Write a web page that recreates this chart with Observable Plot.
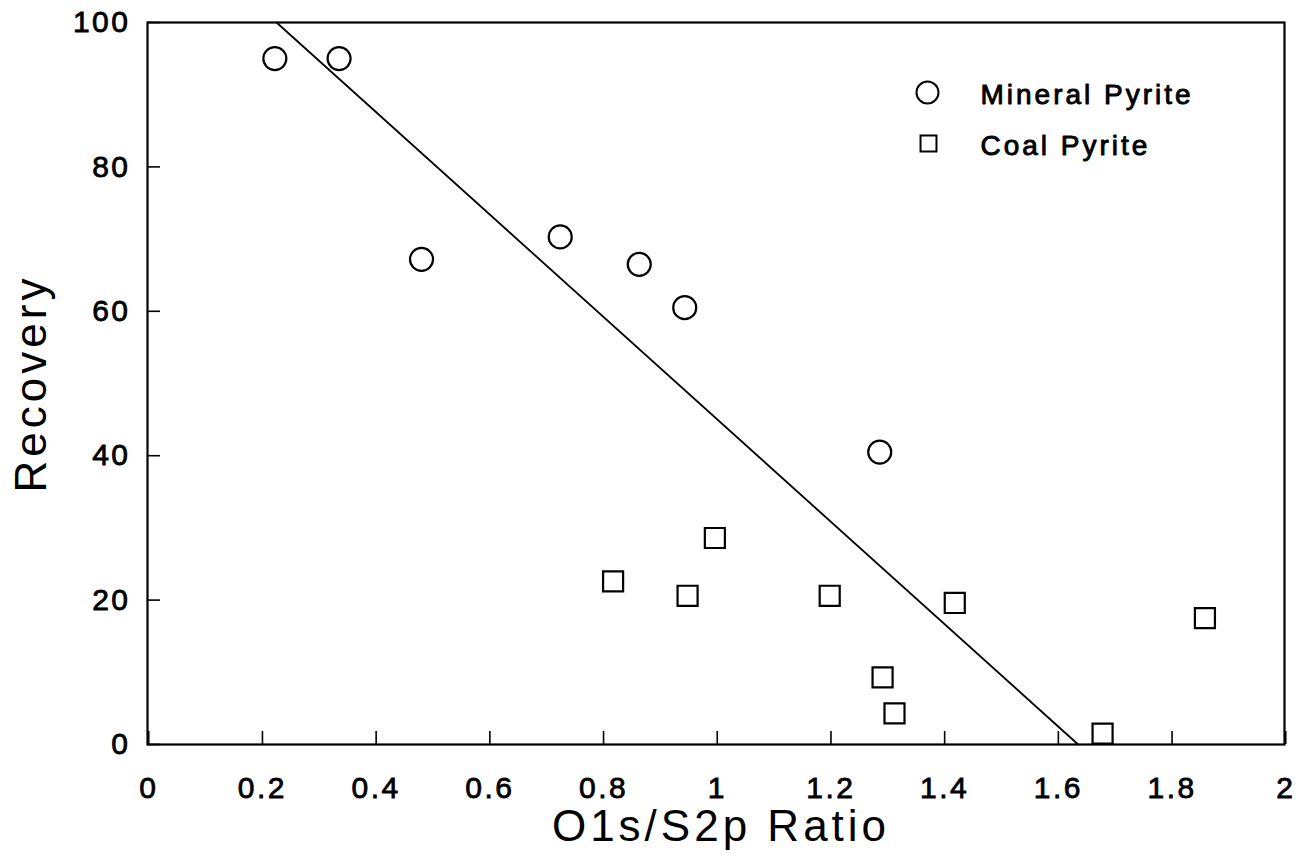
<!DOCTYPE html>
<html>
<head>
<meta charset="utf-8">
<script src="https://cdn.jsdelivr.net/npm/d3@7"></script>
<script src="https://cdn.jsdelivr.net/npm/@observablehq/plot@0.6"></script>
<style>
  html, body { margin: 0; padding: 0; background: #fff; }
  #chart svg text { letter-spacing: 3px; }
  #chart svg g[aria-label$="tick label"] text { stroke: #000; stroke-width: 0.8px; letter-spacing: 2.5px; }
  #chart svg g.title text { letter-spacing: 4px; }
</style>
</head>
<body>
<div id="chart"></div>
<script>
// Mineral Pyrite (circles)
const mineralX = [0.224, 0.337, 0.482, 0.726, 0.865, 0.945, 1.288];
const mineralY = [95.0, 95.0, 67.2, 70.3, 66.5, 60.5, 40.5];
// Coal Pyrite (squares)
const coalX = [0.819, 0.950, 0.998, 1.200, 1.293, 1.314, 1.420, 1.680, 1.860];
const coalY = [22.6, 20.6, 28.6, 20.6, 9.3, 4.3, 19.6, 1.5, 17.5];
// Fitted line endpoints
const fitX = [0.227, 1.637];
const fitY = [100, 0];
// Ticks
const xTicks = [0, 0.2, 0.4, 0.6, 0.8, 1, 1.2, 1.4, 1.6, 1.8, 2];
const yTicks = [0, 20, 40, 60, 80, 100];
// Labels
const xLabel = "O1s/S2p Ratio";
const yLabel = "Recovery";
const legendLabels = ["Mineral Pyrite", "Coal Pyrite"];

const mineral = mineralX.map((x, i) => ({x, y: mineralY[i]}));
const coal = coalX.map((x, i) => ({x, y: coalY[i]}));
const fit = fitX.map((x, i) => ({x, y: fitY[i]}));

const ink = "#000";
const chart = Plot.plot({
  width: 1301,
  height: 859,
  marginLeft: 147,
  marginRight: 17,
  marginTop: 22,
  marginBottom: 115,
  style: {fontFamily: "'Liberation Sans', Arial, Helvetica, sans-serif", color: ink, background: "#fff"},
  x: {domain: [0, 2]},
  y: {domain: [0, 100]},
  marks: [
    Plot.frame({stroke: ink, strokeWidth: 2.2}),
    Plot.axisX(xTicks, {anchor: "bottom", tickSize: -13, tickPadding: 45, fontSize: 30, strokeWidth: 1.6, label: null, dx: 1.25, tickFormat: d => String(d)}),
    Plot.axisY(yTicks, {anchor: "left", tickSize: -13, tickPadding: 30, fontSize: 30, strokeWidth: 1.6, label: null, tickFormat: d => String(d)}),
    Plot.line(fit, {x: "x", y: "y", stroke: ink, strokeWidth: 1.8}),
    Plot.dot(mineral, {x: "x", y: "y", symbol: "circle", r: 11.5, stroke: ink, strokeWidth: 2.2, fill: "none"}),
    Plot.dot(coal, {x: "x", y: "y", symbol: "square", r: 11.3, stroke: ink, strokeWidth: 2.2, fill: "none"}),
    // Legend
    Plot.dot([legendLabels[0]], {frameAnchor: "top-left", dx: 780, dy: 70, symbol: "circle", r: 11, stroke: ink, strokeWidth: 2, fill: "none"}),
    Plot.dot([legendLabels[1]], {frameAnchor: "top-left", dx: 781, dy: 121, symbol: "square", r: 9, stroke: ink, strokeWidth: 2, fill: "none"}),
    Plot.text([legendLabels[0]], {text: d => d, frameAnchor: "top-left", dx: 833, dy: 73, textAnchor: "start", lineAnchor: "middle", fontSize: 28, fill: ink, stroke: ink, strokeWidth: 0.9}),
    Plot.text([legendLabels[1]], {text: d => d, frameAnchor: "top-left", dx: 833, dy: 124, textAnchor: "start", lineAnchor: "middle", fontSize: 28, fill: ink, stroke: ink, strokeWidth: 0.9}),
    // Axis titles
    Plot.text([yLabel], {text: d => d, frameAnchor: "left", dx: -116, rotate: -90, textAnchor: "middle", lineAnchor: "middle", fontSize: 44, fill: ink, className: "title"}),
    Plot.text([xLabel], {text: d => d, frameAnchor: "bottom", dx: 5, dy: 82, textAnchor: "middle", lineAnchor: "middle", fontSize: 44, fill: ink, className: "title"})
  ]
});
document.getElementById("chart").appendChild(chart);
</script>
</body>
</html>
